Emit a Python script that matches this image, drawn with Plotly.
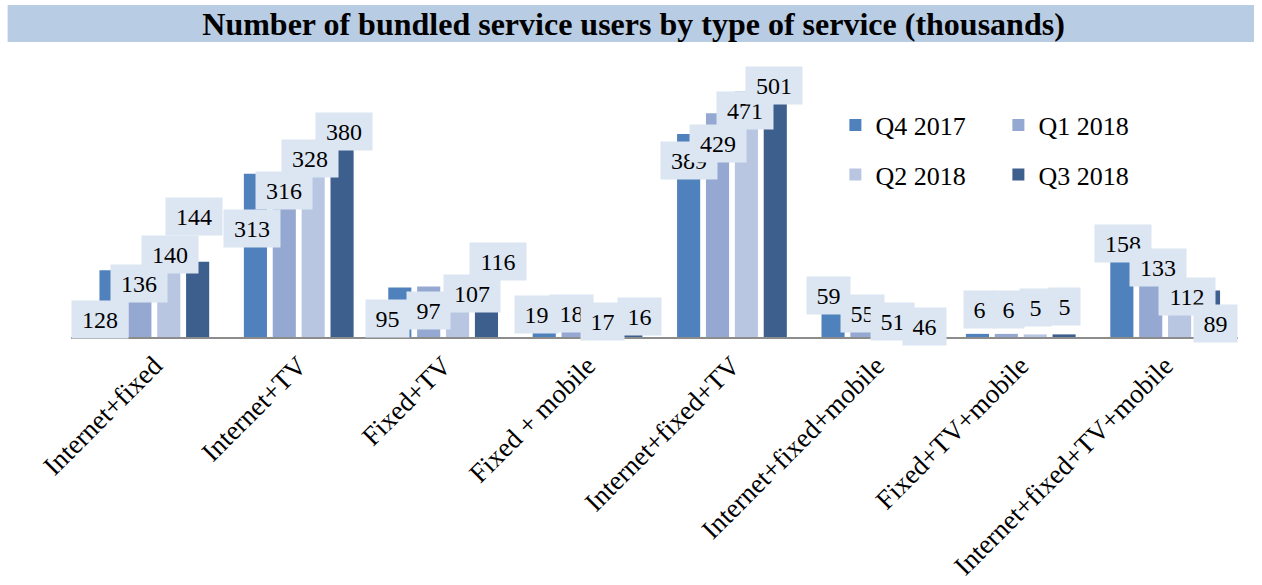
import plotly.graph_objects as go

categories = [
    "Internet+fixed",
    "Internet+TV",
    "Fixed+TV",
    "Fixed + mobile",
    "Internet+fixed+TV",
    "Internet+fixed+mobile",
    "Fixed+TV+mobile",
    "Internet+fixed+TV+mobile",
]
periods = ["Q4 2017", "Q1 2018", "Q2 2018", "Q3 2018"]
q4_2017 = [128, 313, 95, 19, 389, 59, 6, 158]
q1_2018 = [136, 316, 97, 18, 429, 55, 6, 133]
q2_2018 = [140, 328, 107, 17, 471, 51, 5, 112]
q3_2018 = [144, 380, 116, 16, 501, 46, 5, 89]

colors = ["#4F81BD", "#95A8D1", "#B9C6E2", "#3C5F8E"]

# hand-placed label boxes: (dx, dy) in px from the top of each bar, dy down
label_nudge = [
    [(-11, 49), (-3, 55), (-12, 31), (-8, -13), (0, 26), (-5, -11), (2, -24), (1, -11)],
    [(-1, 17), (0, 18), (0, 24), (-2, -14), (0, 30), (1, 5), (2, -24), (7, 0)],
    [(1, -9), (-3, -7), (14, 12), (1, -7), (-1, 19), (2, 11), (0, -27), (7, 18)],
    [(-4, -45), (2, -7), (12, -15), (9, -12), (-1, 10), (5, 13), (0, -28), (7, 33)],
]
box_width = {1: 25, 2: 37, 3: 50}

BARGAP = 0.2
series = [q4_2017, q1_2018, q2_2018, q3_2018]

fig = go.Figure()
for j, (name, vals) in enumerate(zip(periods, series)):
    fig.add_trace(go.Bar(
        x=categories,
        y=vals,
        name=name,
        marker_color=colors[j],
        marker_line_width=0,
        legend="legend" if j < 2 else "legend2",
    ))

# data labels, drawn series by series so later boxes sit on top (like Excel)
slot = (1 - BARGAP) / len(series)
for j, vals in enumerate(series):
    for i, v in enumerate(vals):
        dx, dy = label_nudge[j][i]
        fig.add_annotation(
            x=i + (j - 1.5) * slot,
            y=v,
            xref="x",
            yref="y",
            text=str(v),
            showarrow=False,
            xshift=dx,
            yshift=-dy,
            xanchor="center",
            yanchor="middle",
            width=box_width[len(str(v))],
            height=31,
            borderpad=3,
            bgcolor="#DCE6F2",
            font=dict(family="Liberation Serif", size=24, color="black"),
        )

# title band
fig.add_shape(
    type="rect",
    xref="paper",
    yref="paper",
    x0=-0.0543,
    x1=1.0137,
    y0=1.028,
    y1=1.157,
    fillcolor="#B8CCE4",
    line_width=0,
    layer="below",
)

legend_style = dict(
    orientation="h",
    x=0.655,
    xanchor="left",
    yanchor="middle",
    font=dict(family="Liberation Serif", size=26, color="black"),
    bgcolor="rgba(0,0,0,0)",
    entrywidth=118,
    entrywidthmode="pixels",
)

fig.update_layout(
    width=1262,
    height=585,
    margin=dict(l=71, r=24, t=50, b=248, autoexpand=False),
    barmode="group",
    bargap=BARGAP,
    bargroupgap=0.2,
    plot_bgcolor="white",
    paper_bgcolor="white",
    font=dict(family="Liberation Serif", color="black"),
    title=dict(
        text="<b>Number of bundled service users by type of service (thousands)</b>",
        x=0.502,
        xanchor="center",
        y=0.96,
        yanchor="middle",
        font=dict(family="Liberation Serif", size=32, color="black"),
    ),
    legend=dict(legend_style, y=0.738),
    legend2=dict(legend_style, y=0.566),
    xaxis=dict(
        tickangle=-45,
        tickfont=dict(family="Liberation Serif", size=27, color="black"),
        showline=True,
        linecolor="#8C8C8C",
        linewidth=2,
        ticks="",
        showgrid=False,
        automargin=False,
    ),
    yaxis=dict(range=[0, 550], visible=False, automargin=False),
    showlegend=True,
)

# drop the browser's default body margin so the figure sits at the window corner
fig.write_html(
    "out.html",
    config={"displayModeBar": False},
    post_script="document.body.style.margin = '0';",
)
